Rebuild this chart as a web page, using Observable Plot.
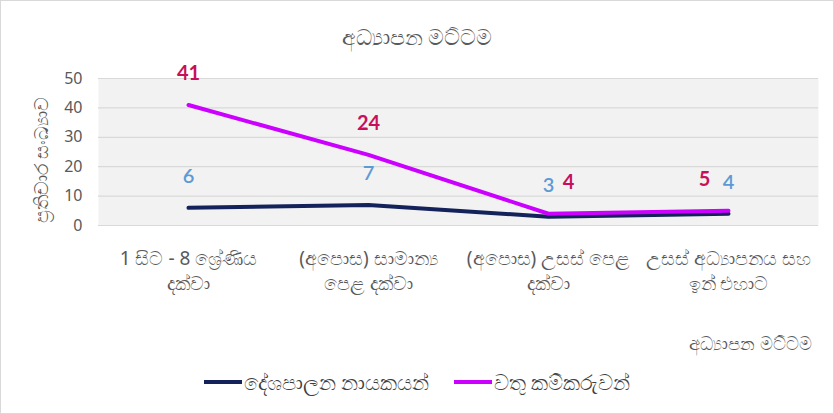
<!DOCTYPE html>
<html>
<head>
<meta charset="utf-8">
<script src="https://cdn.jsdelivr.net/npm/d3@7"></script>
<script src="https://cdn.jsdelivr.net/npm/@observablehq/plot@0.6"></script>
<style>
  html, body { margin: 0; padding: 0; background: #fff; }
  #wrap { position: relative; width: 834px; height: 414px; overflow: hidden; font-family: "Noto Sans", Lato, sans-serif; }
  #frame { position: absolute; left: 0; top: 0; width: 832px; height: 412px; border: 1px solid #d9d9d9; pointer-events: none; }
  .t { position: absolute; color: #595959; white-space: nowrap; }
  #title { left: 0; width: 834px; top: 21px; text-align: center; font-size: 22px; }
  #xtitle { right: 22px; top: 331px; font-size: 18px; }
  #ytitle { left: 40px; top: 160px; font-size: 18.5px; transform: translate(-50%, -50%) rotate(-90deg); }
  #legend { position: absolute; left: 0; width: 834px; top: 368px; display: flex; justify-content: center; gap: 24px; font-size: 20.5px; color: #404040; }
  .item { display: flex; align-items: center; }
  .sw { display: inline-block; width: 38px; height: 4px; margin-right: 2px; }
  #plot { position: absolute; left: 0; top: 0; }
</style>
</head>
<body>
<div id="wrap">
  <div id="plot"></div>
  <div id="title" class="t"></div>
  <div id="xtitle" class="t"></div>
  <div id="ytitle" class="t"></div>
  <div id="legend"></div>
  <div id="frame"></div>
</div>
<script>
const chartTitle = "අධ්‍යාපන මට්ටම";
const xAxisTitle = "අධ්‍යාපන මට්ටම";
const yAxisTitle = "ප්‍රතිචාර සංඛ්‍යාව";
const categories = [
  "1 සිට - 8 ශ්‍රේණිය\nදක්වා",
  "(අපොස) සාමාන්‍ය\nපෙළ දක්වා",
  "(අපොස) උසස් පෙළ\nදක්වා",
  "උසස් අධ්‍යාපනය සහ\nඉන් එහාට"
];
const seriesNames = ["දේශපාලන නායකයන්", "වතු කම්කරුවන්"];
const politicians = [6, 7, 3, 4];
const estateWorkers = [41, 24, 4, 5];
const yTicks = [0, 10, 20, 30, 40, 50];

const colors = { line0: "#13225a", line1: "#cc00ff", lab0: "#5b9bd5", lab1: "#c8105a" };

const d0 = categories.map((c, i) => ({ cat: c, v: politicians[i], i }));
const d1 = categories.map((c, i) => ({ cat: c, v: estateWorkers[i], i }));

const numFont = "Lato, 'Open Sans', sans-serif";

const plot = Plot.plot({
  width: 834,
  height: 414,
  marginLeft: 98,
  marginRight: 16,
  marginTop: 78,
  marginBottom: 189,
  style: { fontFamily: "'Noto Sans', Lato, sans-serif", background: "transparent" },
  x: { type: "point", domain: categories, padding: 0.5, label: null },
  y: { domain: [0, 50], label: null },
  marks: [
    Plot.frame({ fill: "#f2f2f2", stroke: null }),
    Plot.gridY(yTicks, { stroke: "#d9d9d9", strokeOpacity: 1, strokeWidth: 1.2 }),
    Plot.axisY({ ticks: yTicks, tickSize: 0, tickPadding: 16, fontSize: 16, fill: "#595959", label: null }),
    Plot.axisX({ tickSize: 0, tickPadding: 22, fontSize: 19, fill: "#595959", lineHeight: 1.3, label: null }),
    Plot.line(d0, { x: "cat", y: "v", stroke: colors.line0, strokeWidth: 4 }),
    Plot.line(d1, { x: "cat", y: "v", stroke: colors.line1, strokeWidth: 4 }),
    Plot.text(d0, { x: "cat", y: "v", text: d => String(d.v), dy: -31, fill: colors.lab0, fontSize: 20, fontWeight: 600, fontFamily: numFont }),
    Plot.text(d1, { filter: d => d.i < 2, x: "cat", y: "v", text: d => String(d.v), dy: -31, fill: colors.lab1, fontSize: 20, fontWeight: "bold", fontFamily: numFont }),
    Plot.text(d1, { filter: d => d.i === 2, x: "cat", y: "v", text: d => String(d.v), dy: -31, dx: 20, fill: colors.lab1, fontSize: 20, fontWeight: "bold", fontFamily: numFont }),
    Plot.text(d1, { filter: d => d.i === 3, x: "cat", y: "v", text: d => String(d.v), dy: -31, dx: -24, fill: colors.lab1, fontSize: 20, fontWeight: "bold", fontFamily: numFont })
  ]
});
document.getElementById("plot").appendChild(plot);
document.getElementById("title").textContent = chartTitle;
document.getElementById("xtitle").textContent = xAxisTitle;
document.getElementById("ytitle").textContent = yAxisTitle;

const legend = document.getElementById("legend");
[colors.line0, colors.line1].forEach((c, i) => {
  const it = document.createElement("div");
  it.className = "item";
  const sw = document.createElement("span");
  sw.className = "sw";
  sw.style.background = c;
  const tx = document.createElement("span");
  tx.textContent = seriesNames[i];
  it.appendChild(sw); it.appendChild(tx);
  legend.appendChild(it);
});
</script>
</body>
</html>
